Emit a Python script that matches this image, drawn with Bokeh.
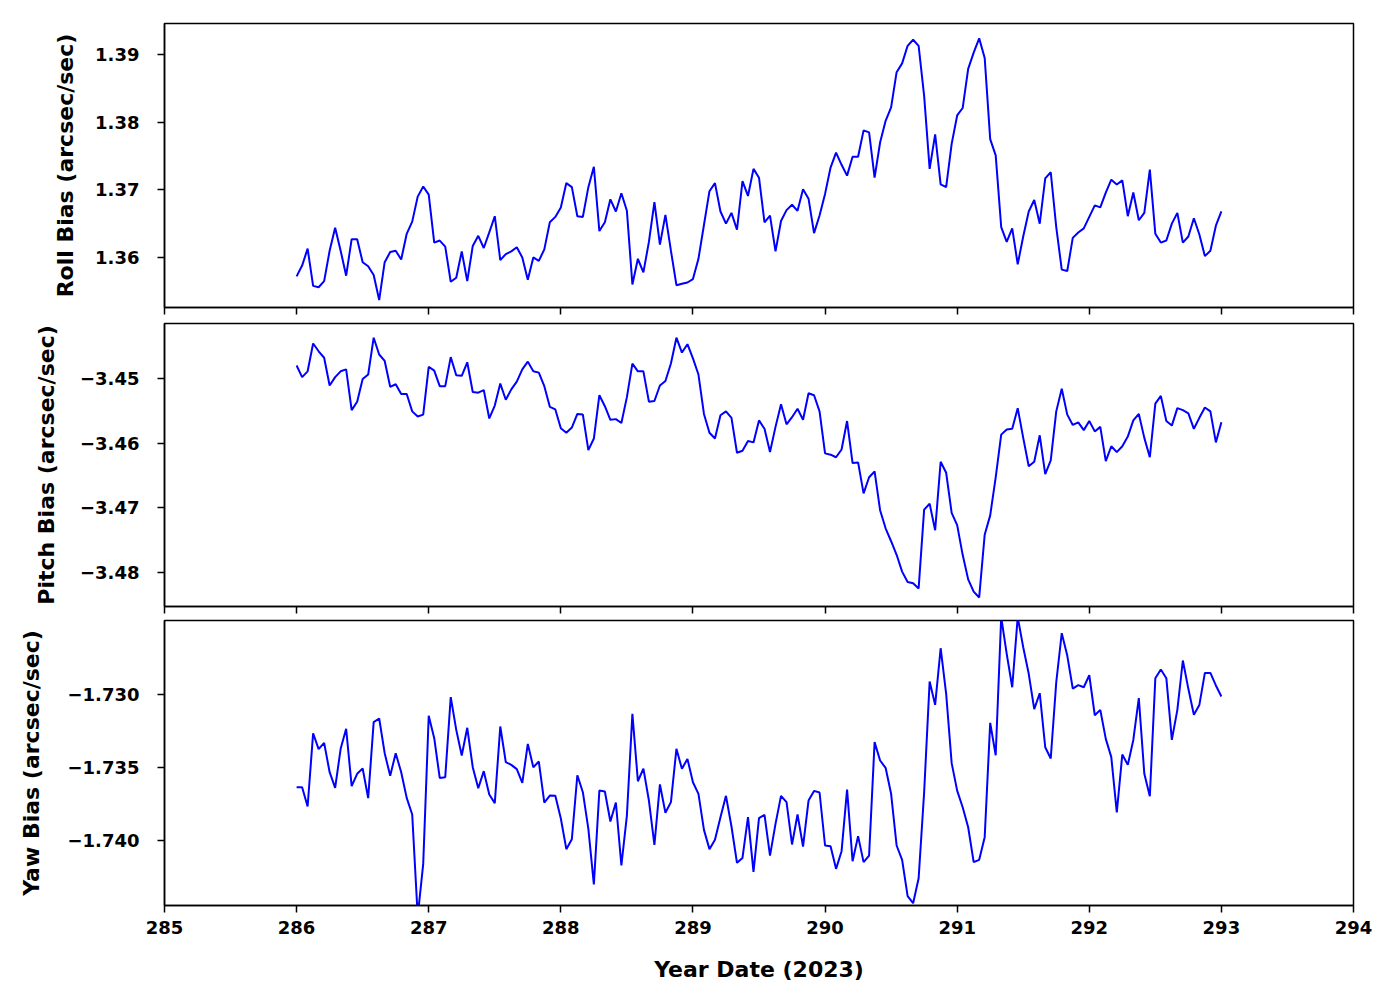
from bokeh.plotting import figure
from bokeh.layouts import column
from bokeh.models import Range1d, FixedTicker, CustomJSTickFormatter
from bokeh.embed import file_html
from bokeh.resources import INLINE

# ---------------- data (hourly samples, day-of-year 2023) ----------------
start_day = 286.0
samples_per_day = 24

roll = [
    1.3572, 1.3588, 1.3613, 1.3558, 1.3556, 1.3565, 1.3610, 1.3644, 1.3610, 1.3573,
    1.3627, 1.3627, 1.3593, 1.3587, 1.3574, 1.3537, 1.3593, 1.3608, 1.3610, 1.3597,
    1.3635, 1.3653, 1.3690, 1.3705, 1.3693, 1.3622, 1.3625, 1.3616, 1.3564, 1.3570,
    1.3609, 1.3565, 1.3617, 1.3632, 1.3614, 1.3637, 1.3661, 1.3596, 1.3605, 1.3609,
    1.3615, 1.3600, 1.3567, 1.3600, 1.3595, 1.3612, 1.3652, 1.3660, 1.3674, 1.3710,
    1.3704, 1.3661, 1.3660, 1.3704, 1.3734, 1.3639, 1.3652, 1.3686, 1.3668, 1.3695,
    1.3669, 1.3560, 1.3598, 1.3578, 1.3623, 1.3682, 1.3619, 1.3663, 1.3610, 1.3559,
    1.3561, 1.3563, 1.3568, 1.3598, 1.3648, 1.3698, 1.3710, 1.3668, 1.3650, 1.3666,
    1.3641, 1.3713, 1.3691, 1.3731, 1.3718, 1.3652, 1.3662, 1.3609, 1.3654, 1.3670,
    1.3678, 1.3669, 1.3701, 1.3687, 1.3636, 1.3662, 1.3694, 1.3733, 1.3755, 1.3737,
    1.3721, 1.3749, 1.3749, 1.3788, 1.3785, 1.3718, 1.3770, 1.3802, 1.3822, 1.3874,
    1.3887, 1.3913, 1.3922, 1.3913, 1.3839, 1.3731, 1.3782, 1.3708, 1.3704, 1.3768,
    1.3810, 1.3821, 1.3879, 1.3903, 1.3924, 1.3895, 1.3775, 1.3751, 1.3645, 1.3623,
    1.3643, 1.3590, 1.3631, 1.3668, 1.3685, 1.3650, 1.3717, 1.3726, 1.3645, 1.3582,
    1.3580, 1.3629, 1.3637, 1.3643, 1.3660, 1.3677, 1.3674, 1.3696, 1.3715, 1.3708,
    1.3714, 1.3661, 1.3696, 1.3655, 1.3666, 1.3730, 1.3635, 1.3622, 1.3625, 1.3650,
    1.3666, 1.3622, 1.3631, 1.3658, 1.3634, 1.3602, 1.3610, 1.3647, 1.3668,
]

pitch = [
    -3.4480, -3.4498, -3.4489, -3.4446, -3.4458, -3.4468, -3.4511, -3.4498, -3.4489, -3.4486,
    -3.4549, -3.4536, -3.4501, -3.4494, -3.4437, -3.4463, -3.4473, -3.4513, -3.4509, -3.4524,
    -3.4524, -3.4551, -3.4559, -3.4556, -3.4482, -3.4488, -3.4512, -3.4512, -3.4467, -3.4495,
    -3.4496, -3.4475, -3.4521, -3.4522, -3.4518, -3.4562, -3.4542, -3.4508, -3.4533, -3.4517,
    -3.4505, -3.4486, -3.4474, -3.4489, -3.4491, -3.4512, -3.4544, -3.4548, -3.4577, -3.4584,
    -3.4576, -3.4555, -3.4556, -3.4611, -3.4593, -3.4526, -3.4543, -3.4564, -3.4563, -3.4569,
    -3.4529, -3.4477, -3.4489, -3.4489, -3.4536, -3.4535, -3.4511, -3.4504, -3.4477, -3.4437,
    -3.4460, -3.4447, -3.4469, -3.4494, -3.4555, -3.4584, -3.4593, -3.4557, -3.4551, -3.4561,
    -3.4615, -3.4612, -3.4597, -3.4599, -3.4565, -3.4578, -3.4614, -3.4575, -3.4540, -3.4571,
    -3.4560, -3.4547, -3.4564, -3.4523, -3.4526, -3.4551, -3.4616, -3.4618, -3.4622, -3.4610,
    -3.4566, -3.4631, -3.4630, -3.4678, -3.4653, -3.4644, -3.4704, -3.4732, -3.4752, -3.4773,
    -3.4799, -3.4815, -3.4817, -3.4825, -3.4703, -3.4694, -3.4735, -3.4629, -3.4646, -3.4708,
    -3.4727, -3.4773, -3.4811, -3.4830, -3.4839, -3.4742, -3.4712, -3.4653, -3.4587, -3.4579,
    -3.4578, -3.4546, -3.4592, -3.4636, -3.4629, -3.4588, -3.4648, -3.4627, -3.4551, -3.4516,
    -3.4556, -3.4572, -3.4568, -3.4580, -3.4566, -3.4582, -3.4575, -3.4628, -3.4605, -3.4614,
    -3.4605, -3.4590, -3.4565, -3.4555, -3.4592, -3.4622, -3.4539, -3.4527, -3.4566, -3.4573,
    -3.4546, -3.4549, -3.4554, -3.4578, -3.4561, -3.4545, -3.4551, -3.4599, -3.4568,
]

yaw = [
    -1.73635, -1.73635, -1.73767, -1.73265, -1.73374, -1.73331, -1.73532, -1.73639, -1.73372, -1.73235,
    -1.73628, -1.73543, -1.73507, -1.73710, -1.73189, -1.73164, -1.73402, -1.73557, -1.73402, -1.73532,
    -1.73708, -1.73822, -1.74520, -1.74160, -1.73146, -1.73299, -1.73571, -1.73566, -1.73018, -1.73242,
    -1.73418, -1.73228, -1.73498, -1.73642, -1.73525, -1.73685, -1.73744, -1.73219, -1.73463, -1.73482,
    -1.73511, -1.73605, -1.73338, -1.73498, -1.73459, -1.73740, -1.73692, -1.73694, -1.73849, -1.74059,
    -1.73991, -1.73553, -1.73669, -1.73920, -1.74301, -1.73658, -1.73664, -1.73870, -1.73740, -1.74171,
    -1.73829, -1.73132, -1.73594, -1.73507, -1.73726, -1.74030, -1.73616, -1.73810, -1.73737, -1.73372,
    -1.73509, -1.73441, -1.73601, -1.73680, -1.73927, -1.74059, -1.73995, -1.73840, -1.73694, -1.73904,
    -1.74153, -1.74119, -1.73840, -1.74215, -1.73847, -1.73824, -1.74103, -1.73886, -1.73694, -1.73737,
    -1.74027, -1.73822, -1.74041, -1.73726, -1.73660, -1.73671, -1.74034, -1.74039, -1.74194, -1.74073,
    -1.73651, -1.74142, -1.73970, -1.74148, -1.74103, -1.73326, -1.73452, -1.73502, -1.73680, -1.74034,
    -1.74132, -1.74381, -1.74429, -1.74258, -1.73669, -1.72911, -1.73071, -1.72683, -1.72995, -1.73470,
    -1.73658, -1.73772, -1.73909, -1.74148, -1.74132, -1.73977, -1.73194, -1.73416, -1.72470, -1.72721,
    -1.72950, -1.72470, -1.72676, -1.72858, -1.73100, -1.72991, -1.73361, -1.73438, -1.72916, -1.72580,
    -1.72733, -1.72959, -1.72936, -1.72950, -1.72868, -1.73142, -1.73105, -1.73304, -1.73429, -1.73808,
    -1.73411, -1.73482, -1.73311, -1.73025, -1.73543, -1.73696, -1.72888, -1.72829, -1.72888, -1.73311,
    -1.73105, -1.72767, -1.72961, -1.73139, -1.73071, -1.72852, -1.72852, -1.72938, -1.73014,
]

days = [start_day + h / samples_per_day for h in range(len(roll))]

x_ticks = [285, 286, 287, 288, 289, 290, 291, 292, 293, 294]
roll_ticks = [1.36, 1.37, 1.38, 1.39]
pitch_ticks = [-3.48, -3.47, -3.46, -3.45]
yaw_ticks = [-1.740, -1.735, -1.730]

x_label = "Year Date (2023)"
roll_label = "Roll Bias (arcsec/sec)"
pitch_label = "Pitch Bias (arcsec/sec)"
yaw_label = "Yaw Bias (arcsec/sec)"

# ---------------- styling ----------------
FONT = "DejaVu Sans"
TICK_SIZE = "18px"
LABEL_SIZE = "22px"
FRAME_W = 1189


def fmt(decimals):
    return CustomJSTickFormatter(
        code="return tick.toFixed(%d).replace('-', '\u2212');" % decimals)


def panel(yvals, ylim, yticks, decimals, ylabel, label_gap, top, bottom, fh, last):
    p = figure(frame_width=FRAME_W, frame_height=fh,
               x_range=Range1d(285, 294), y_range=Range1d(*ylim),
               output_backend="svg", toolbar_location=None,
               min_border_left=164, min_border_right=40,
               min_border_top=top, min_border_bottom=bottom)
    p.line(days, yvals, line_color="#0000ff", line_width=2)
    p.grid.visible = False
    p.background_fill_color = "white"
    p.border_fill_color = "white"
    p.outline_line_color = "black"
    p.outline_line_width = 1.5
    p.outline_line_alpha = 1.0

    for ax in (p.xaxis[0], p.yaxis[0]):
        ax.axis_line_color = "black"
        ax.axis_line_width = 1.5
        ax.major_tick_line_color = "black"
        ax.major_tick_line_width = 1.5
        ax.major_tick_out = 7
        ax.major_tick_in = 0
        ax.minor_tick_line_color = None
        ax.major_label_text_font = FONT
        ax.major_label_text_font_style = "bold"
        ax.major_label_text_font_size = TICK_SIZE
        ax.major_label_text_color = "black"
        ax.axis_label_text_font = FONT
        ax.axis_label_text_font_style = "bold"
        ax.axis_label_text_font_size = LABEL_SIZE
        ax.axis_label_text_color = "black"

    p.yaxis[0].ticker = FixedTicker(ticks=yticks)
    p.yaxis[0].formatter = fmt(decimals)
    p.yaxis[0].axis_label = ylabel
    p.yaxis[0].major_label_standoff = 18
    p.yaxis[0].axis_label_standoff = label_gap

    p.xaxis[0].ticker = FixedTicker(ticks=x_ticks)
    p.xaxis[0].formatter = fmt(0)
    if last:
        p.xaxis[0].axis_label = x_label
        p.xaxis[0].major_label_standoff = 8
        p.xaxis[0].axis_label_standoff = 20
    else:
        # shared x axis: tick marks only, labels not painted
        p.xaxis[0].major_label_text_color = None
        p.xaxis[0].major_label_text_font_size = "1px"
        p.xaxis[0].major_label_standoff = 0
    return p


p1 = panel(roll, (1.3526, 1.3946), roll_ticks, 2, roll_label, 14, 23, 10, 284, False)
p2 = panel(pitch, (-3.4853, -3.4415), pitch_ticks, 2, pitch_label, 18, 6, 8, 283, False)
p3 = panel(yaw, (-1.74445, -1.72493), yaw_ticks, 3, yaw_label, 20, 6, 40, 285, True)

layout = column(p1, p2, p3, spacing=0)

open("out.html", "w").write(file_html(layout, INLINE))
